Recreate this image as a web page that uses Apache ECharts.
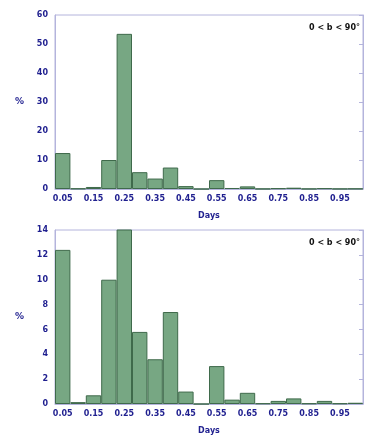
<!DOCTYPE html>
<html>
<head>
<meta charset="utf-8">
<script src="https://cdn.jsdelivr.net/npm/echarts@6/dist/echarts.min.js"></script>
<style>
  html, body { margin: 0; padding: 0; background: #fff; }
  #main { width: 382px; height: 448px; }
</style>
</head>
<body>
<div id="main"></div>
<script>
// bins of 0.05 days, label shown every other bin
var bins = ['0.05','0.10','0.15','0.20','0.25','0.30','0.35','0.40','0.45','0.50',
            '0.55','0.60','0.65','0.70','0.75','0.80','0.85','0.90','0.95','1.00'];
var pct = [12.4, 0.15, 0.7, 10.0, 53.5, 5.8, 3.6, 7.4, 1.0, 0.0,
           3.05, 0.35, 0.9, 0.05, 0.25, 0.45, 0.05, 0.25, 0.05, 0.1];
var topTicks = [0, 60, 10];   // min, max, interval
var bottomTicks = [0, 14, 2];
var note = '0 < b < 90°';

var blue = '#1f1f8f';
var frame = '#b4b4dc';
var font = 'DejaVu Sans';

function grid(top) {
  return { left: 55, right: 19, top: top, height: 174, show: true,
           borderColor: frame, borderWidth: 1, backgroundColor: 'transparent' };
}
function xAx(i) {
  return {
    type: 'category', gridIndex: i, data: bins,
    name: 'Days', nameLocation: 'middle', nameGap: 23,
    nameTextStyle: { color: blue, fontFamily: font, fontSize: 8, fontWeight: 'bold' },
    axisLine: { lineStyle: { color: frame } },
    axisTick: { show: false },
    axisLabel: { interval: 1, color: blue, fontFamily: font, fontSize: 8, fontWeight: 'bold', margin: 6 }
  };
}
function yAx(i, t) {
  return {
    type: 'value', gridIndex: i, min: t[0], max: t[1], interval: t[2],
    name: '%', nameLocation: 'middle', nameGap: 31, nameRotate: 0,
    nameTextStyle: { color: blue, fontFamily: font, fontSize: 9, fontWeight: 'bold' },
    axisLine: { show: true, lineStyle: { color: frame } },
    axisTick: { show: false },
    splitLine: { show: false },
    axisLabel: { color: blue, fontFamily: font, fontSize: 8, fontWeight: 'bold', margin: 7 }
  };
}
function yRight(i, t) {
  return {
    type: 'value', gridIndex: i, position: 'right', min: t[0], max: t[1], interval: t[2],
    axisLine: { show: true, lineStyle: { color: frame } },
    axisTick: { show: true, inside: true, length: 4, lineStyle: { color: frame } },
    axisLabel: { show: false },
    splitLine: { show: false }
  };
}
function bars(i) {
  return {
    type: 'bar', xAxisIndex: i, yAxisIndex: i * 2, data: pct,
    barCategoryGap: '0%', clip: true,
    itemStyle: { color: '#77a783', borderColor: '#3f6a4b', borderWidth: 1 }
  };
}

var chart = echarts.init(document.getElementById('main'));
chart.setOption({
  animation: false,
  grid: [grid(15), grid(230)],
  xAxis: [xAx(0), xAx(1)],
  yAxis: [yAx(0, topTicks), yRight(0, topTicks), yAx(1, bottomTicks), yRight(1, bottomTicks)],
  series: [bars(0), bars(1)],
  graphic: [
    { type: 'text', right: 22, top: 24, style: { text: note, fill: '#111', font: 'bold 8px DejaVu Sans' } },
    { type: 'text', right: 22, top: 239, style: { text: note, fill: '#111', font: 'bold 8px DejaVu Sans' } }
  ]
});
</script>
</body>
</html>
